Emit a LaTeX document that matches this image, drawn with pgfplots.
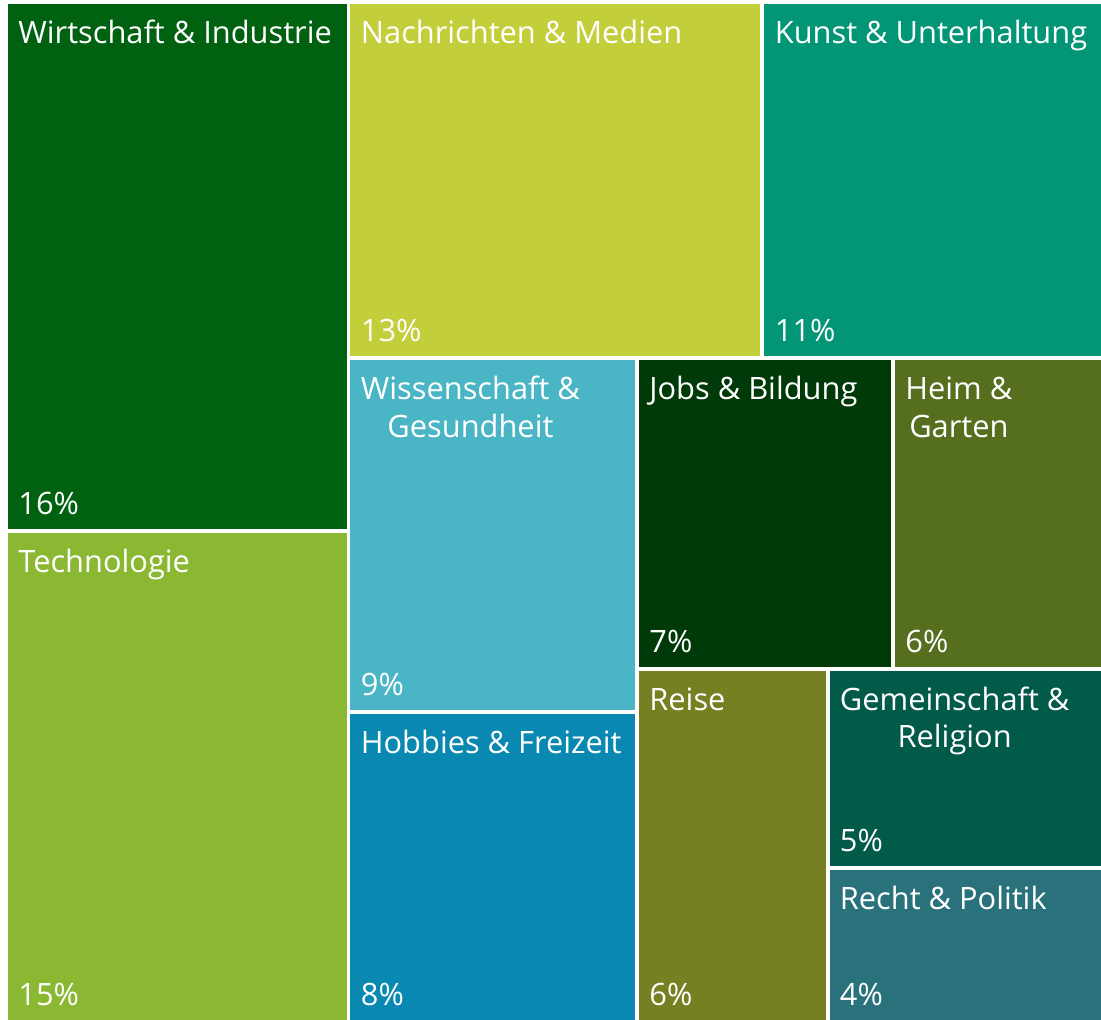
\documentclass[border=0pt]{standalone}
\usepackage{pgfplots}
\pgfplotsset{compat=1.18}
\usepackage{fontspec}
\setmainfont{Open Sans}
\definecolor{cWI}{HTML}{006210}
\definecolor{cTE}{HTML}{8AB833}
\definecolor{cNM}{HTML}{C2CF3B}
\definecolor{cKU}{HTML}{029676}
\definecolor{cWG}{HTML}{4AB5C4}
\definecolor{cHF}{HTML}{0989B1}
\definecolor{cJB}{HTML}{003A08}
\definecolor{cHG}{HTML}{566F1F}
\definecolor{cRE}{HTML}{767F22}
\definecolor{cGR}{HTML}{025A48}
\definecolor{cRP}{HTML}{29717B}
% rect: x0 x1 y0 y1 colour (pixel coordinates, y downward)
\newcommand{\rect}[5]{\addplot[fill=#5, draw=none, forget plot] coordinates {(#1,#3) (#2,#3) (#2,#4) (#1,#4)} --cycle;}
\newcommand{\lab}[3]{\node[anchor=base west, inner sep=0pt, text=white] at (axis cs:#1,#2) {#3};}
\newcommand{\labtwo}[5]{\node[anchor=base west, inner sep=0pt, text=white] (#5) at (axis cs:#1,#2) {#3};
  \node[anchor=base, inner sep=0pt, text=white] at ([yshift=-18.7pt]#5.base) {#4};}
\begin{document}
\begin{tikzpicture}
\begin{axis}[
  scale only axis, width=550.5pt, height=510pt,
  xmin=0, xmax=1101, ymin=0, ymax=1020, y dir=reverse,
  axis lines=none, clip=true,
  font=\fontsize{15.4}{18.5}\selectfont,
]
\rect{0}{1101}{0}{1020}{white}
% data: x0, x1, y0, y1 (pixels)
\rect{7.5}{346.5}{4}{528.7}{cWI}
\rect{7.5}{346.5}{533}{1020}{cTE}
\rect{350.3}{760}{4}{355.7}{cNM}
\rect{764.3}{1101}{4}{355.7}{cKU}
\rect{350.3}{635.3}{360.5}{710}{cWG}
\rect{350.3}{635.3}{714}{1020}{cHF}
\rect{639}{891}{360.5}{666.7}{cJB}
\rect{895}{1101}{360.5}{666.7}{cHG}
\rect{639}{825.5}{671}{1020}{cRE}
\rect{829.5}{1101}{671}{865.7}{cGR}
\rect{829.5}{1101}{870}{1020}{cRP}
% labels
\lab{18}{44}{Wirtschaft \& Industrie}
\lab{18}{514.3}{16\%}
\lab{18}{572.3}{Technologie}
\lab{18}{1005.5}{15\%}
\lab{360.5}{44}{Nachrichten \& Medien}
\lab{360.5}{341.3}{13\%}
\lab{774.5}{44}{Kunst \& Unterhaltung}
\lab{774.5}{341.3}{11\%}
\labtwo{360.5}{400}{Wissenschaft \&}{Gesundheit}{wg}
\lab{360.5}{695.5}{9\%}
\lab{360.5}{753.5}{Hobbies \& Freizeit}
\lab{360.5}{1005.5}{8\%}
\lab{649}{400}{Jobs \& Bildung}
\lab{649}{652}{7\%}
\labtwo{905}{400}{Heim \&}{Garten}{hg}
\lab{905}{652}{6\%}
\lab{649}{710.5}{Reise}
\lab{649}{1005.5}{6\%}
\labtwo{839.5}{710.5}{Gemeinschaft \&}{Religion}{gr}
\lab{839.5}{851}{5\%}
\lab{839.5}{909.5}{Recht \& Politik}
\lab{839.5}{1005.5}{4\%}
\end{axis}
\end{tikzpicture}
\end{document}
